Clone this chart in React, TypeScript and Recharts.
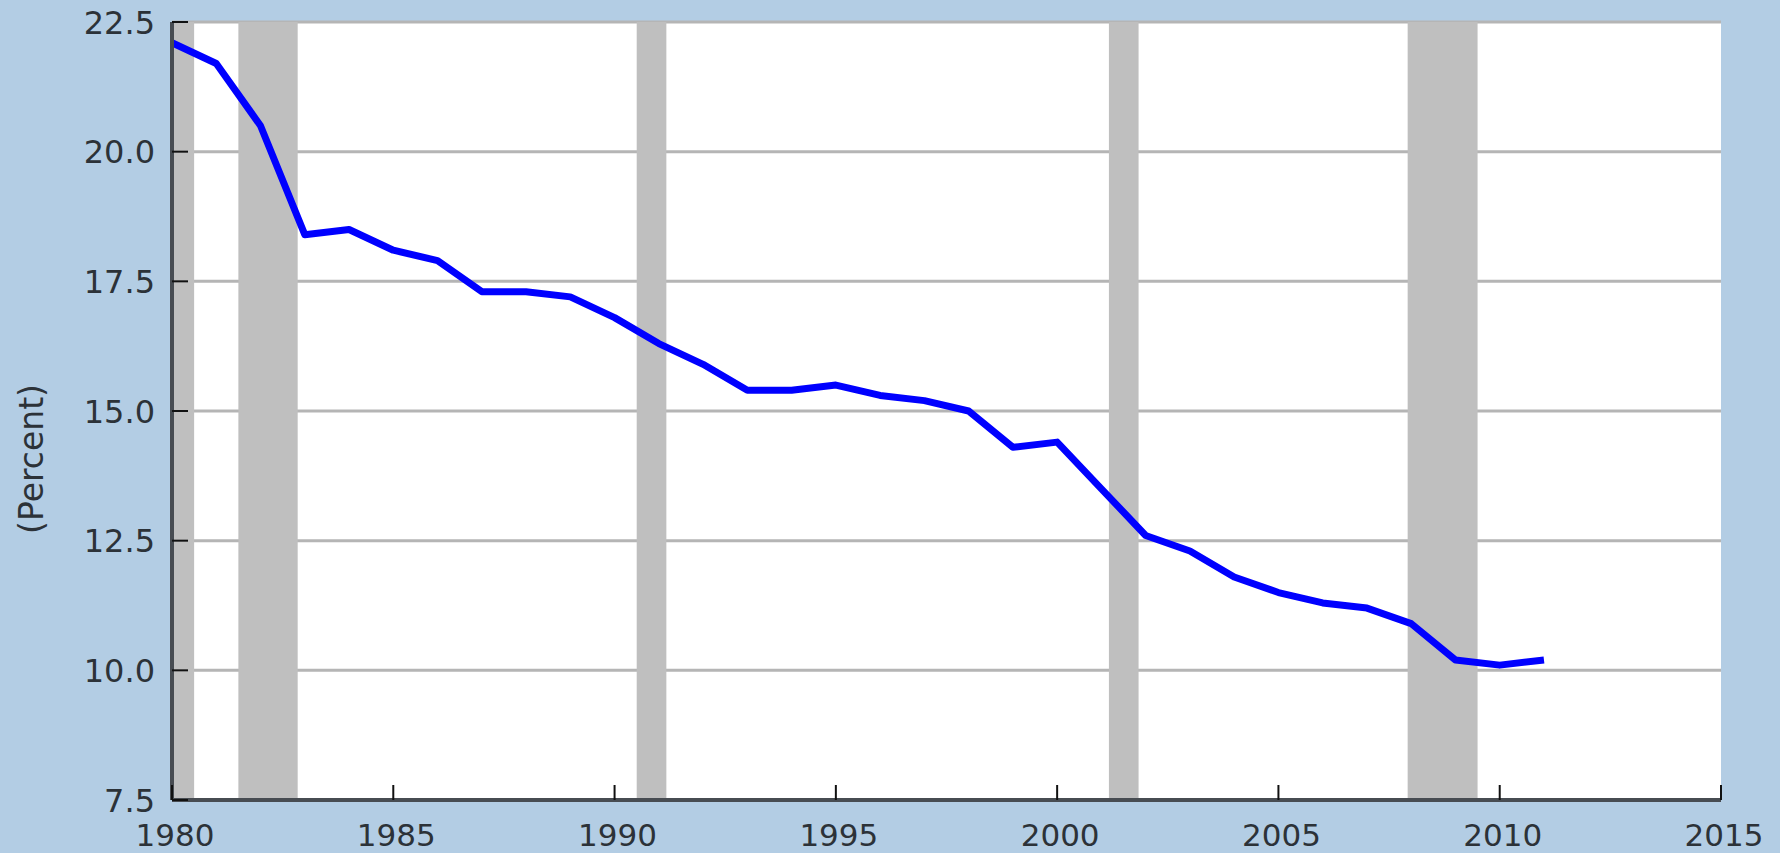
import React from "react";
import {
  ComposedChart,
  Line,
  XAxis,
  YAxis,
  CartesianGrid,
  ReferenceArea,
} from "recharts";

// annual values (percent)
const years = [
  1980, 1981, 1982, 1983, 1984, 1985, 1986, 1987, 1988, 1989, 1990, 1991,
  1992, 1993, 1994, 1995, 1996, 1997, 1998, 1999, 2000, 2001, 2002, 2003,
  2004, 2005, 2006, 2007, 2008, 2009, 2010, 2011,
];
const values = [
  22.1, 21.7, 20.5, 18.4, 18.5, 18.1, 17.9, 17.3, 17.3, 17.2, 16.8, 16.3,
  15.9, 15.4, 15.4, 15.5, 15.3, 15.2, 15.0, 14.3, 14.4, 13.5, 12.6, 12.3,
  11.8, 11.5, 11.3, 11.2, 10.9, 10.2, 10.1, 10.2,
];

// recession periods (shaded)
const recessionStarts = [1980.0, 1981.5, 1990.5, 2001.17, 2007.92];
const recessionEnds = [1980.5, 1982.84, 1991.17, 2001.84, 2009.5];

const xTicks = [1980, 1985, 1990, 1995, 2000, 2005, 2010, 2015];
const yTicks = [7.5, 10, 12.5, 15, 17.5, 20, 22.5];

const data = years.map((year, i) => ({ year, value: values[i] }));

const FONT = "'DejaVu Sans', Verdana, sans-serif";
const TEXT = "#2c3238";

const YTick = (props: any) => {
  const { x, y, payload } = props;
  return (
    <g>
      <line x1={x + 17} x2={x + 33} y1={y} y2={y} stroke="#111" strokeWidth={2} />
      <text
        x={x}
        y={y}
        dy="0.36em"
        textAnchor="end"
        fontFamily={FONT}
        fontSize={32}
        fill={TEXT}
      >
        {Number(payload.value).toFixed(1)}
      </text>
    </g>
  );
};

const XTick = (props: any) => {
  const { x, y, payload } = props;
  return (
    <g>
      <line x1={x} x2={x} y1={y - 15} y2={y} stroke="#111" strokeWidth={2} />
      <text
        x={x + 3}
        y={y + 46}
        textAnchor="middle"
        fontFamily={FONT}
        fontSize={31}
        fill={TEXT}
      >
        {payload.value}
      </text>
    </g>
  );
};

const PercentLabel = (props: any) => {
  const { viewBox } = props;
  const cy = viewBox.y + viewBox.height / 2 + 48;
  return (
    <text
      x={43}
      y={cy}
      transform={`rotate(-90, 43, ${cy})`}
      textAnchor="middle"
      fontFamily={FONT}
      fontSize={33}
      fill={TEXT}
    >
      (Percent)
    </text>
  );
};

export default function App() {
  return (
    <div
      style={{
        position: "absolute",
        left: 0,
        top: 0,
        width: 1780,
        height: 853,
        background: "#b3cde4",
      }}
    >
      <ComposedChart
        width={1780}
        height={853}
        data={data}
        margin={{ top: 22, right: 59, bottom: 0, left: 0 }}
      >
        <CartesianGrid
          vertical={false}
          stroke="#b5b5b5"
          strokeWidth={3}
          fill="#ffffff"
          fillOpacity={1}
        />
        {recessionStarts.map((s, i) => (
          <ReferenceArea
            key={`rec-${i}`}
            x1={s}
            x2={recessionEnds[i]}
            y1={7.5}
            y2={22.5}
            fill="#bfbfbf"
            fillOpacity={1}
            stroke="none"
            ifOverflow="hidden"
          />
        ))}
        <XAxis
          dataKey="year"
          type="number"
          domain={[1980, 2015]}
          ticks={xTicks}
          height={53}
          tickSize={0}
          tickMargin={0}
          tick={<XTick />}
          axisLine={{ stroke: "#474c52", strokeWidth: 4 }}
          tickLine={false}
          interval={0}
        />
        <YAxis
          type="number"
          domain={[7.5, 22.5]}
          ticks={yTicks}
          width={172}
          tickSize={0}
          tickMargin={17}
          tick={<YTick />}
          axisLine={{ stroke: "#474c52", strokeWidth: 4 }}
          tickLine={false}
          interval={0}
          label={<PercentLabel />}
        />
        <Line
          type="linear"
          dataKey="value"
          stroke="#0000ff"
          strokeWidth={7}
          strokeLinejoin="round"
          dot={false}
          isAnimationActive={false}
        />
      </ComposedChart>
    </div>
  );
}
